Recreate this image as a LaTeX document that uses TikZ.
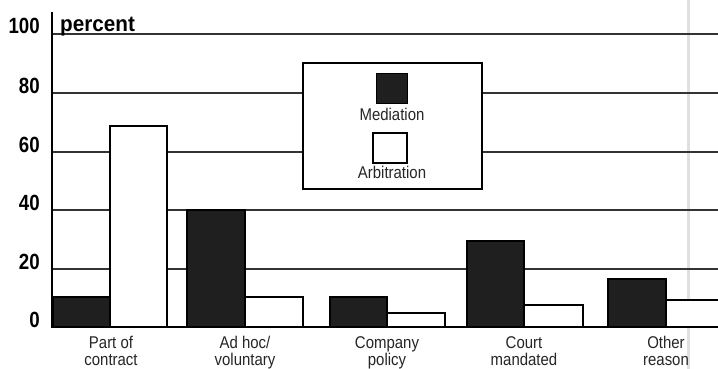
\documentclass[tikz,border=0pt]{standalone}
\usepackage{fontspec}
\newfontfamily\numf[FakeStretch=0.85]{Liberation Sans}
\newfontfamily\pctf[FakeStretch=0.94]{Liberation Sans}
\newfontfamily\labf[FakeStretch=0.88]{Liberation Sans}
\begin{document}
\begin{tikzpicture}[x=1pt,y=-1pt,
  gridline/.style={line width=1.1pt, black!80},
  medbar/.style={draw=black, line width=1.2pt, fill=black!88},
  arbbar/.style={draw=black, line width=1.2pt, fill=white},
  ticklab/.style={font=\numf\bfseries\fontsize{22}{24}\selectfont, anchor=base east, inner sep=0},
  catlab/.style={font=\labf\fontsize{17}{19}\selectfont, anchor=base, inner sep=0, text=black!85},
]
\useasboundingbox (0,0) rectangle (718,369);
\clip (0,0) rectangle (718,369);
\fill[white] (0,0) rectangle (718,369);
% scan artifact
\draw[black!12, line width=3pt] (688,0) -- (688,369);
% gridlines
\foreach \yy in {34,93,152,210,269}
  \draw[gridline] (52,\yy) -- (718,\yy);
% bars: Part of contract
\draw[medbar] (53,327) rectangle (110,297);
\draw[arbbar] (110,327) rectangle (167,126);
% Ad hoc
\draw[medbar] (187,327) rectangle (245,210);
\draw[arbbar] (245,327) rectangle (303,297);
% Company policy
\draw[medbar] (330,327) rectangle (387,297);
\draw[arbbar] (387,327) rectangle (445,313);
% Court mandated
\draw[medbar] (467,327) rectangle (524,241);
\draw[arbbar] (524,327) rectangle (583,305);
% Other reason
\draw[medbar] (608,327) rectangle (666,279);
\draw[arbbar] (666,327) rectangle (730,300);
% axes
\draw[line width=2.2pt] (52,327) -- (718,327);
\draw[line width=2pt] (52,12) -- (52,328);
% tick labels
\node[ticklab] (t100) at (40,34) {100};
\node[ticklab] (t80) at (40,93) {80};
\node[ticklab] (t60) at (40,152) {60};
\node[ticklab] (t40) at (40,210) {40};
\node[ticklab] (t20) at (40,269) {20};
\node[ticklab] (t0) at (40,327) {0};
\node[font=\pctf\bfseries\fontsize{22}{24}\selectfont, anchor=base west, inner sep=0] (pct) at (60,32) {percent};
% legend
\node[draw, line width=2pt, fill=white, minimum width=179pt, minimum height=126pt, anchor=north west, inner sep=0] (legend) at (302,62) {};
\node[fill=black!88, draw=black, line width=1pt, minimum width=31pt, minimum height=30pt, inner sep=0] (legmed) at (392,89) {};
\node[fill=white, draw=black, line width=1.2pt, minimum width=34pt, minimum height=30pt, inner sep=0] (legarb) at (390,148) {};
\node[catlab] (legmedtxt) at (392,121) {Mediation};
\node[catlab] (legarbtxt) at (392,178) {Arbitration};
% category labels
\node[catlab] (c1a) at (111,348) {Part of};
\node[catlab] (c1b) at (111,365) {contract};
\node[catlab] (c2a) at (245,348) {Ad hoc/};
\node[catlab] (c2b) at (245,365) {voluntary};
\node[catlab] (c3a) at (387,348) {Company};
\node[catlab] (c3b) at (387,365) {policy};
\node[catlab] (c4a) at (524,348) {Court};
\node[catlab] (c4b) at (524,365) {mandated};
\node[catlab] (c5a) at (666,348) {Other};
\node[catlab] (c5b) at (666,365) {reason};
\end{tikzpicture}
\end{document}
